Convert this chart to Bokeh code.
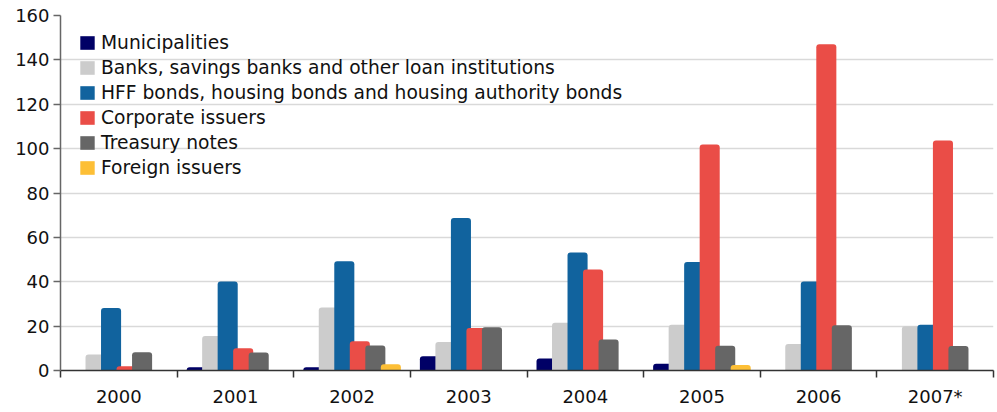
from bokeh.plotting import figure
from bokeh.models import ColumnDataSource, FixedTicker, Legend, LegendItem, Range1d
from bokeh.transform import dodge
from bokeh.embed import file_html
from bokeh.resources import INLINE

years = ["2000", "2001", "2002", "2003", "2004", "2005", "2006", "2007*"]
municipalities = [0, 1.5, 1.5, 6.4, 5.4, 3.0, 0, 0]
banks = [7.2, 15.5, 28.4, 12.8, 21.5, 20.6, 11.9, 20.0]
hff = [28.2, 40.1, 49.2, 68.7, 53.2, 48.9, 40.1, 20.6]
corporate = [1.9, 10.0, 13.2, 19.2, 45.5, 101.9, 147.0, 103.7]
treasury = [8.2, 8.1, 11.3, 19.5, 14.0, 11.1, 20.4, 11.0]
foreign = [0, 0, 2.8, 0, 0, 2.5, 0, 0]

series_names = [
    "Municipalities",
    "Banks, savings banks and other loan institutions",
    "HFF bonds, housing bonds and housing authority bonds",
    "Corporate issuers",
    "Treasury notes",
    "Foreign issuers",
]
series_keys = ["muni", "banks", "hff", "corp", "treas", "foreign"]
colors = ["#000066", "#CCCCCC", "#11639E", "#EA4D47", "#666666", "#FDBF36"]

xpos = [i + 0.5 for i in range(len(years))]
src = ColumnDataSource(dict(x=xpos, muni=municipalities, banks=banks, hff=hff,
                            corp=corporate, treas=treasury, foreign=foreign))

FONT = "DejaVu Sans"
p = figure(width=997, height=412, output_backend="svg", toolbar_location=None,
           x_range=Range1d(0, 8), y_range=Range1d(0, 160),
           min_border_left=60, min_border_right=4, min_border_top=15,
           min_border_bottom=42)
p.outline_line_color = None
p.background_fill_color = "white"
p.border_fill_color = "white"

pitch = 0.133
bw = 0.172
items = []
for i, (k, name, c) in enumerate(zip(series_keys, series_names, colors)):
    r = p.vbar(x=dodge("x", (i - 2.5) * pitch), top=k, width=bw, bottom=0,
               source=src, fill_color=c, line_color=None,
               border_radius=(3, 3, 0, 0))
    items.append(LegendItem(label=name, renderers=[r]))

legend = Legend(items=items, location=(18, 192), margin=0, padding=5,
                glyph_width=18, glyph_height=17, label_height=20, spacing=4,
                label_standoff=5, border_line_color=None,
                background_fill_alpha=0,
                label_text_font=FONT, label_text_font_size="18.7px",
                label_text_color="#111111")
p.add_layout(legend)

# axes
p.xaxis.ticker = FixedTicker(ticks=xpos, minor_ticks=list(range(len(years) + 1)))
p.xaxis.major_label_overrides = {x: y for x, y in zip(xpos, years)}
p.xaxis.major_tick_line_color = None
p.xaxis.major_tick_out = 7
p.xaxis.major_tick_in = 0
p.xaxis.minor_tick_out = 7
p.xaxis.minor_tick_in = 0
p.xaxis.minor_tick_line_color = "#333333"
p.xaxis.minor_tick_line_width = 1.5
p.xaxis.axis_line_color = "#333333"
p.xaxis.axis_line_width = 1.5
p.xaxis.major_label_standoff = 8
p.xaxis.major_label_text_font = FONT
p.xaxis.major_label_text_font_size = "18px"
p.xaxis.major_label_text_color = "#111111"

p.yaxis.ticker = FixedTicker(ticks=list(range(0, 161, 20)))
p.yaxis.axis_line_color = "#666666"
p.yaxis.axis_line_width = 1.5
p.yaxis.major_tick_line_color = "#666666"
p.yaxis.major_tick_line_width = 1.5
p.yaxis.major_tick_out = 7
p.yaxis.major_tick_in = 0
p.yaxis.minor_tick_line_color = None
p.yaxis.major_label_standoff = 4
p.yaxis.major_label_text_font = FONT
p.yaxis.major_label_text_font_size = "18px"
p.yaxis.major_label_text_color = "#111111"

p.xgrid.grid_line_color = None
p.ygrid.grid_line_color = "#D9D9D9"
p.ygrid.grid_line_width = 1.5

open("out.html", "w").write(file_html(p, INLINE))
